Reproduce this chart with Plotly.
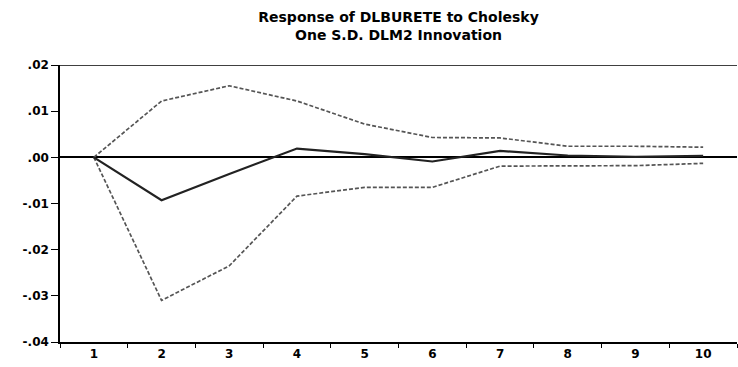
import plotly.graph_objects as go

periods = [1, 2, 3, 4, 5, 6, 7, 8, 9, 10]
response = [0.0, -0.0093, -0.0036, 0.0019, 0.0007, -0.0009, 0.0014, 0.0004, 0.0001, 0.0003]
upper = [0.0, 0.0122, 0.0155, 0.0122, 0.0072, 0.0043, 0.0042, 0.0024, 0.0024, 0.0022]
lower = [0.0, -0.0310, -0.0235, -0.0084, -0.0065, -0.0065, -0.0019, -0.0019, -0.0018, -0.0013]
y_ticks = [0.02, 0.01, 0.0, -0.01, -0.02, -0.03, -0.04]
y_labels = [".02", ".01", ".00", "-.01", "-.02", "-.03", "-.04"]
title_lines = ["Response of DLBURETE to Cholesky", "One S.D. DLM2 Innovation"]

FONT = "DejaVu Sans"

fig = go.Figure()
fig.add_trace(go.Scatter(x=periods, y=upper, mode="lines",
                         line=dict(color="#555555", width=1.7, dash="4px,2px"),
                         showlegend=False))
fig.add_trace(go.Scatter(x=periods, y=lower, mode="lines",
                         line=dict(color="#555555", width=1.7, dash="4px,2px"),
                         showlegend=False))
fig.add_trace(go.Scatter(x=periods, y=response, mode="lines",
                         line=dict(color="#222222", width=2.2),
                         showlegend=False))

fig.add_shape(type="line", xref="paper", yref="y", x0=0, x1=1, y0=0.02, y1=0.02,
              line=dict(color="black", width=1.5))

fig.update_layout(
    width=738, height=367,
    margin=dict(l=60, r=1, t=65, b=25),
    paper_bgcolor="white", plot_bgcolor="white",
    title=dict(text="<b>" + "<br>".join(title_lines) + "</b>",
               x=0.54, xanchor="center", y=0.94, yanchor="middle", yref="container",
               font=dict(family=FONT, size=14, color="black")),
    font=dict(family=FONT, color="black"),
)
fig.update_xaxes(
    range=[0.5, 10.5], tickvals=periods, ticktext=["<b>%d</b>" % p for p in periods],
    ticks="", showgrid=False, zeroline=False,
    showline=True, linecolor="black", linewidth=1.5,
    tickfont=dict(family=FONT, size=12, color="black"),
    minor=dict(tick0=0.5, dtick=1, ticks="outside", ticklen=4, tickwidth=1.2,
               tickcolor="black", showgrid=False),
)
fig.update_yaxes(
    range=[-0.04, 0.02], tickvals=y_ticks, ticktext=["<b>%s</b>" % t for t in y_labels],
    ticks="outside", ticklen=7, tickwidth=1.2, tickcolor="black",
    showgrid=False, zeroline=True, zerolinecolor="black", zerolinewidth=2,
    showline=True, linecolor="black", linewidth=1.5,
    tickfont=dict(family=FONT, size=12, color="black"),
)

fig.write_html("out.html", config={"displayModeBar": False},
               post_script="document.body.style.margin='0px';")
